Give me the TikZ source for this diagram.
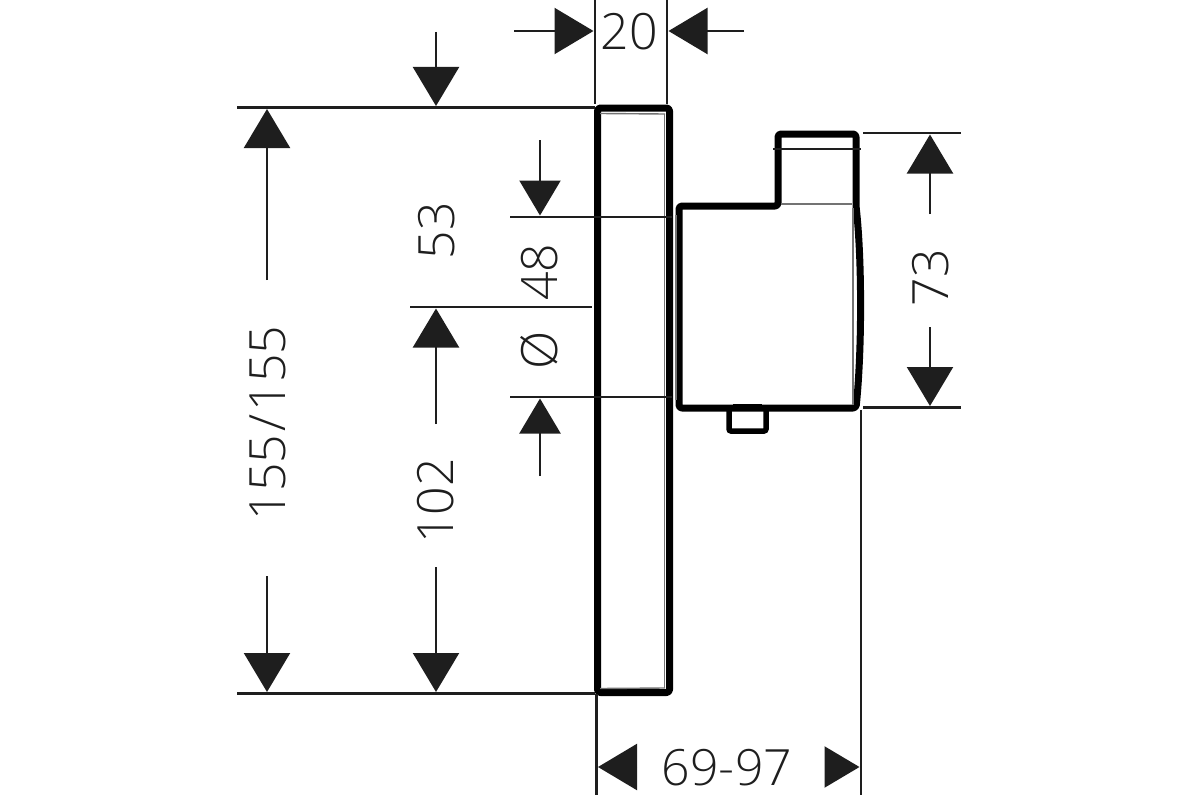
\documentclass[tikz,border=0pt]{standalone}
\usepackage{fontspec}
\setmainfont{Open Sans}[UprightFont=* Light]
\usetikzlibrary{arrows.meta}
\definecolor{inkcol}{HTML}{1E1E1E}

\tikzset{
  thin line/.style={line width=2.2pt,draw=inkcol},
  grey line/.style={line width=1.4pt,draw=black!55},
  body line/.style={line width=7pt,draw=black,rounded corners=3pt,line join=round},
  big arrow/.style={thin line,shorten >=1.5pt,-{Triangle[length=39pt,width=46pt,fill=inkcol]}},
  small arrow/.style={thin line,shorten >=1.5pt,-{Triangle[length=35pt,width=41pt,fill=inkcol]}},
  dim/.style={font=\fontsize{50}{50}\selectfont,text=inkcol,inner sep=0pt},
  dim up/.style={dim,rotate=90},
}

\begin{document}
\begin{tikzpicture}[x=1pt,y=-1pt]
  \useasboundingbox (0,0) rectangle (1200,800);
  % plate
  \draw[body line] (597.5,108) rectangle (669.5,692.5);
  \draw[grey line] (600,113.5) -- (665,114);
  \draw[grey line] (664.5,114) -- (664.5,688);
  \draw[grey line] (600,688.5) -- (665,688);
  % housing
  \draw[body line] (778,206) -- (778,134) -- (856,134) -- (856,206)
    .. controls (862,260) and (862,350) .. (856,408)
    -- (679,408) -- (679,206) -- cycle;
  \draw[grey line] (853,208) -- (853,405);
  \draw[grey line] (676,215) -- (676,400);
  \draw[thin line] (773,149) -- (861,149);
  \draw[grey line] (781,204) -- (852,204);
  \draw[line width=5.5pt,rounded corners=2pt] (729,408) -- (729,431) -- (766,431) -- (766,408);
  \draw[line width=3pt] (733,405.5) -- (762,405.5);
  % end points
  \coordinate (w1t) at (595,0);     \coordinate (w1b) at (595,104);
  \coordinate (w2t) at (667,0);     \coordinate (w2b) at (667,104);
  \coordinate (wl) at (514,31);     \coordinate (wlt) at (595,31);
  \coordinate (wr) at (744,31);     \coordinate (wrt) at (667,31);
  \coordinate (ht1) at (237,107.5); \coordinate (ht2) at (595,107.5);
  \coordinate (hb1) at (237,693.5); \coordinate (hb2) at (595,693.5);
  \coordinate (c1) at (410,307);    \coordinate (c2) at (592,307);
  \coordinate (d1) at (510,217);    \coordinate (d2) at (672,217);
  \coordinate (e1) at (510,397);    \coordinate (e2) at (672,397);
  \coordinate (f1) at (863,133);    \coordinate (f2) at (961,133);
  \coordinate (g1) at (863,407.5);  \coordinate (g2) at (961,407.5);
  \coordinate (l1) at (596.5,694);  \coordinate (l2) at (596.5,795);
  \coordinate (r1) at (861,410);    \coordinate (r2) at (861,795);
  % extension lines
  \draw[thin line] (w1t) -- (w1b);
  \draw[thin line] (w2t) -- (w2b);
  \draw[thin line] (ht1) -- (ht2);
  \draw[thin line] (hb1) -- (hb2);
  \draw[thin line] (c1) -- (c2);
  \draw[thin line] (d1) -- (d2);
  \draw[thin line] (e1) -- (e2);
  \draw[thin line] (f1) -- (f2);
  \draw[thin line] (g1) -- (g2);
  \draw[thin line] (l1) -- (l2);
  \draw[thin line] (r1) -- (r2);
  % labels
  \node[dim] (w20) at (629,32) {20};
  \node[dim] (w6997) at (727,768) {69-97};
  \node[dim up] (h155) at (268,423) {155\kern3pt/\kern3pt155};
  \node[dim up] (h53) at (437,231) {53};
  \node[dim up] (h102) at (436,501) {102};
  \node[dim up] (d48) at (539,306.5) {Ø\hspace{30pt}48};
  \node[dim up] (h73) at (931,278) {73};
  % arrows
  \draw[big arrow] (wl) -- (wlt);
  \draw[big arrow] (wr) -- (wrt);
  \draw[big arrow] (436,32) coordinate (a1) -- (a1 |- ht1);
  \draw[big arrow] (267,280) coordinate (a2) -- (a2 |- ht1);
  \draw[big arrow] (267,576) coordinate (a3) -- (a3 |- hb1);
  \draw[big arrow] (436,424) coordinate (a4) -- (a4 |- c1);
  \draw[big arrow] (436,567) coordinate (a5) -- (a5 |- hb1);
  \draw[small arrow] (540,140) coordinate (a6) -- (a6 |- d1);
  \draw[small arrow] (540,476) coordinate (a7) -- (a7 |- e1);
  \draw[big arrow] (930,214) coordinate (a8) -- (a8 |- f1);
  \draw[big arrow] (930,327) coordinate (a9) -- (a9 |- g1);
  \draw[big arrow] (637,767) coordinate (a10) -- (l1 |- a10);
  \draw[small arrow] (825,767) coordinate (a11) -- (r1 |- a11);
\end{tikzpicture}
\end{document}
